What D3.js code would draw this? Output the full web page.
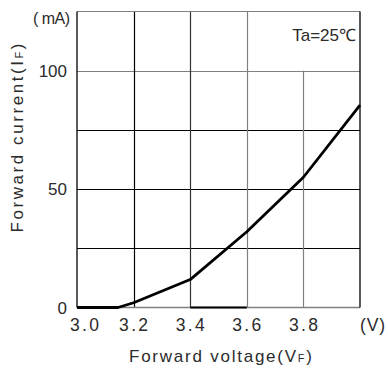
<!DOCTYPE html>
<html>
<head>
<meta charset="utf-8">
<script src="https://cdn.jsdelivr.net/npm/d3@7"></script>
<style>
  html, body { margin: 0; padding: 0; background: #fff; }
  svg { display: block; }
  text { font-family: "Liberation Sans", Arial, sans-serif; fill: #2b2b2b; }
</style>
</head>
<body>
<svg id="chart" width="388" height="370"></svg>
<script>
// ---- data ----
const voltage = [3.0, 3.145, 3.2, 3.4, 3.6, 3.8, 4.0];
const current = [0, 0, 2, 11.8, 32, 55, 85.5];
const xTicks = [3.0, 3.2, 3.4, 3.6, 3.8];
const xTickLabels = ["3.0", "3.2", "3.4", "3.6", "3.8"];
const yTicks = [0, 50, 100];
const yTickLabels = ["0", "50", "100"];
const yGrid = [25, 50, 75, 100];
const xGrid = [3.2, 3.4, 3.6, 3.8];
const baselineSegment = [3.4, 3.6];

const svg = d3.select("#chart");
const x = d3.scaleLinear().domain([3.0, 4.0]).range([77, 360]);
const y = d3.scaleLinear().domain([0, 125]).range([307.5, 11.5]);

const black = "#000", gray = "#808080";
const vColor = {3.2: black, 3.4: "#333", 3.6: gray, 3.8: gray};
const hColor = {25: black, 50: black, 75: black, 100: gray};

// horizontal grid lines
svg.selectAll(".hgrid").data(yGrid).enter().append("line")
  .attr("x1", x(3.0)).attr("x2", x(4.0))
  .attr("y1", d => Math.round(y(d)) + 0.5).attr("y2", d => Math.round(y(d)) + 0.5)
  .attr("stroke", d => hColor[d]).attr("stroke-width", 1.2);

// vertical grid lines (3.8 stops at 100)
svg.selectAll(".vgrid").data(xGrid).enter().append("line")
  .attr("x1", d => Math.round(x(d)) + 0.5).attr("x2", d => Math.round(x(d)) + 0.5)
  .attr("y1", d => d === 3.8 ? y(100) : y(125)).attr("y2", y(0))
  .attr("stroke", d => vColor[d]).attr("stroke-width", 1.2);

// frame
svg.append("line").attr("x1", x(3.0)).attr("x2", x(4.0)).attr("y1", y(125)).attr("y2", y(125))
  .attr("stroke", gray).attr("stroke-width", 1.2);
svg.append("line").attr("x1", x(3.0)).attr("x2", x(4.0)).attr("y1", y(0)).attr("y2", y(0))
  .attr("stroke", gray).attr("stroke-width", 1.4);
svg.append("line").attr("x1", x(3.0)).attr("x2", x(3.0)).attr("y1", y(125)).attr("y2", y(0))
  .attr("stroke", black).attr("stroke-width", 1.3);
svg.append("line").attr("x1", x(4.0)).attr("x2", x(4.0)).attr("y1", y(125)).attr("y2", y(0))
  .attr("stroke", black).attr("stroke-width", 1.3);

// black baseline segment
svg.append("line").attr("x1", x(baselineSegment[0])).attr("x2", x(baselineSegment[1]))
  .attr("y1", y(0)).attr("y2", y(0)).attr("stroke", black).attr("stroke-width", 2.2);

// curve
const pts = voltage.map((v, i) => [v, current[i]]);
svg.append("path").datum(pts)
  .attr("d", d3.line().x(d => x(d[0])).y(d => y(d[1])))
  .attr("fill", "none").attr("stroke", black).attr("stroke-width", 2.8)
  .attr("stroke-linejoin", "round");

// x tick labels
svg.selectAll(".xt").data(xTicks).enter().append("text")
  .attr("x", (d, i) => i === 0 ? x(d) + 7.5 : x(d))
  .attr("y", 331)
  .attr("text-anchor", "middle")
  .attr("font-size", 17.5)
  .attr("textLength", 29).attr("lengthAdjust", "spacing")
  .text((d, i) => xTickLabels[i]);
svg.append("text").attr("x", 372.5).attr("y", 331).attr("text-anchor", "middle")
  .attr("font-size", 17.5).attr("textLength", 25).attr("lengthAdjust", "spacing").text("(V)");

// y tick labels
svg.selectAll(".yt").data(yTicks).enter().append("text")
  .attr("x", 67).attr("y", d => y(d) + 6)
  .attr("text-anchor", "end").attr("font-size", 17)
  .text((d, i) => yTickLabels[i]);
svg.append("text").attr("x", 51.5).attr("y", 24).attr("text-anchor", "middle")
  .attr("font-size", 16).attr("textLength", 37).attr("lengthAdjust", "spacing").text("( mA)");

// annotation
svg.append("text").attr("x", 356).attr("y", 41).attr("text-anchor", "end")
  .attr("font-size", 17).text("Ta=25℃");

// x title
const xt = svg.append("text").attr("x", 220.5).attr("y", 362).attr("text-anchor", "middle")
  .attr("font-size", 17).attr("textLength", 183).attr("lengthAdjust", "spacing");
xt.append("tspan").text("Forward voltage(V");
xt.append("tspan").attr("font-size", 11).text("F");
xt.append("tspan").text(")");

// y title
const yt = svg.append("text").attr("transform", "translate(23,138) rotate(-90)")
  .attr("text-anchor", "middle").attr("font-size", 17)
  .attr("textLength", 189).attr("lengthAdjust", "spacing");
yt.append("tspan").text("Forward current(I");
yt.append("tspan").attr("font-size", 11).text("F");
yt.append("tspan").text(")");
</script>
</body>
</html>
